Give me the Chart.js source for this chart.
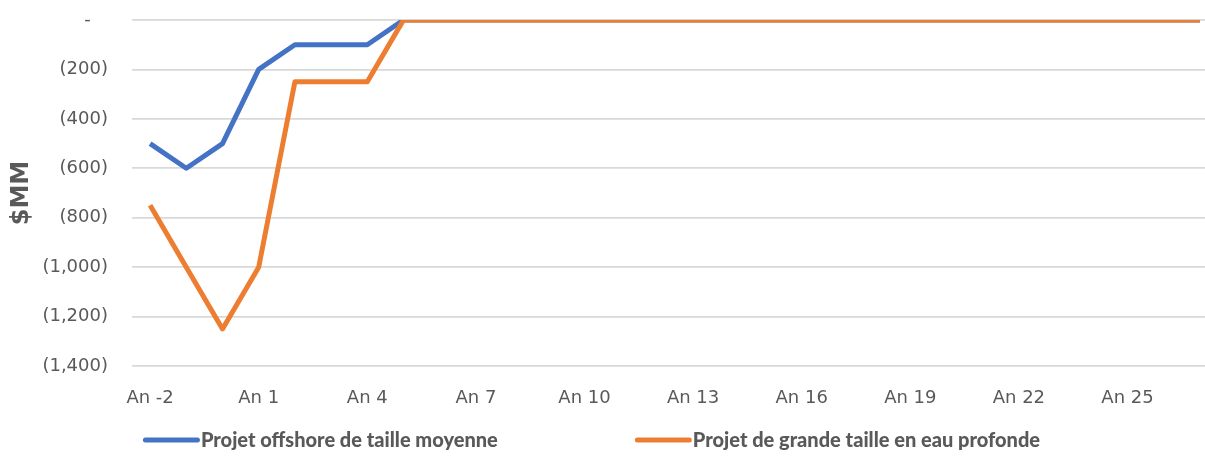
<!DOCTYPE html>
<html>
<head>
<meta charset="utf-8">
<script src="https://cdn.jsdelivr.net/npm/chart.js@4/dist/chart.umd.min.js"></script>
<style>
  html, body { margin: 0; padding: 0; background: #fff; overflow: hidden; }
  #wrap { width: 1222px; height: 457px; position: relative; }
</style>
</head>
<body>
<div id="wrap"><canvas id="myChart"></canvas></div>
<script>
// categories (years), tick labels every 3rd year are shown
const years = ['An -2', 'An -1', 'An 0', 'An 1', 'An 2', 'An 3', 'An 4', 'An 5', 'An 6', 'An 7',
               'An 8', 'An 9', 'An 10', 'An 11', 'An 12', 'An 13', 'An 14', 'An 15', 'An 16', 'An 17',
               'An 18', 'An 19', 'An 20', 'An 21', 'An 22', 'An 23', 'An 24', 'An 25', 'An 26', 'An 27'];

// $MM
const offshoreMoyen = [-500, -600, -500, -200, -100, -100, -100, 0, 0, 0,
                       0, 0, 0, 0, 0, 0, 0, 0, 0, 0,
                       0, 0, 0, 0, 0, 0, 0, 0, 0, 0];
const grandeProfonde = [-750, -1000, -1250, -1000, -250, -250, -250, 0, 0, 0,
                        0, 0, 0, 0, 0, 0, 0, 0, 0, 0,
                        0, 0, 0, 0, 0, 0, 0, 0, 0, 0];

const seriesNames = ['Projet offshore de taille moyenne', 'Projet de grande taille en eau profonde'];
const yTicks = [0, -200, -400, -600, -800, -1000, -1200, -1400];

const textColor = '#595959';

// legend drawn by hand so line and text sit like in the original
const bottomLegend = {
    id: 'bottomLegend',
    afterDraw(chart) {
        const ctx = chart.ctx;
        const lineLen = 57;
        const gap = 138;
        ctx.save();
        ctx.font = '900 20px Lato';
        const widths = chart.data.datasets.map(ds => ctx.measureText(ds.label).width);
        const total = widths.reduce((a, w) => a + lineLen + w, 0) + gap;
        let x = 591 - total / 2;
        const y = 440;
        ctx.textBaseline = 'middle';
        ctx.textAlign = 'left';
        chart.data.datasets.forEach((ds, i) => {
            ctx.strokeStyle = ds.borderColor;
            ctx.lineWidth = 5;
            ctx.lineCap = 'round';
            ctx.beginPath();
            ctx.moveTo(x + 2.5, y);
            ctx.lineTo(x + lineLen - 2.5, y);
            ctx.stroke();
            ctx.fillStyle = textColor;
            ctx.fillText(ds.label, x + lineLen + 1, y + 1);
            x += lineLen + widths[i] + gap;
        });
        ctx.restore();
    }
};

const ctx = document.getElementById('myChart').getContext('2d');
const chart = new Chart(ctx, {
    type: 'line',
    data: {
        labels: years,
        datasets: [{
            label: seriesNames[0],
            data: offshoreMoyen,
            borderColor: '#4472C4',
            backgroundColor: '#4472C4',
            borderWidth: 5,
            pointRadius: 0,
            tension: 0,
            borderJoinStyle: 'round',
            order: 1
        }, {
            label: seriesNames[1],
            data: grandeProfonde,
            borderColor: '#ED7D31',
            backgroundColor: '#ED7D31',
            borderWidth: 5,
            pointRadius: 0,
            tension: 0,
            borderJoinStyle: 'round',
            order: 0
        }]
    },
    options: {
        responsive: true,
        maintainAspectRatio: false,
        animation: false,
        layout: { padding: { top: 20, right: 4, left: 0, bottom: 0 } },
        plugins: {
            legend: { display: false },
            tooltip: { enabled: false }
        },
        scales: {
            x: {
                offset: true,
                grid: { display: false, drawTicks: false },
                border: { display: false },
                afterFit(scale) { scale.height = 91; },
                ticks: {
                    autoSkip: false,
                    maxRotation: 0,
                    padding: 22,
                    color: textColor,
                    font: { family: 'DejaVu Sans', size: 18 },
                    callback(value, index) {
                        return index % 3 === 0 ? years[index] : '';
                    }
                }
            },
            y: {
                min: yTicks[yTicks.length - 1],
                max: yTicks[0],
                afterFit(scale) {
                    scale.width = 132;
                    // tick padding is horizontal only here
                    scale.paddingTop = 0;
                    scale.paddingBottom = 0;
                },
                afterBuildTicks(scale) {
                    scale.ticks = yTicks.map(v => ({ value: v }));
                },
                grid: { color: '#D9D9D9', lineWidth: 1.8, drawTicks: false },
                border: { display: false },
                title: {
                    display: true,
                    text: '$MM',
                    color: textColor,
                    font: { family: 'DejaVu Sans', size: 24, weight: 'bold' },
                    padding: { top: 7, bottom: 0 }
                },
                ticks: {
                    padding: 24,
                    color: textColor,
                    font: { family: 'DejaVu Sans', size: 18 },
                    callback(value) {
                        if (value === 0) return '-   ';
                        return '(' + Math.abs(value).toLocaleString('en-US') + ')';
                    }
                }
            }
        }
    },
    plugins: [bottomLegend]
});
</script>
</body>
</html>
